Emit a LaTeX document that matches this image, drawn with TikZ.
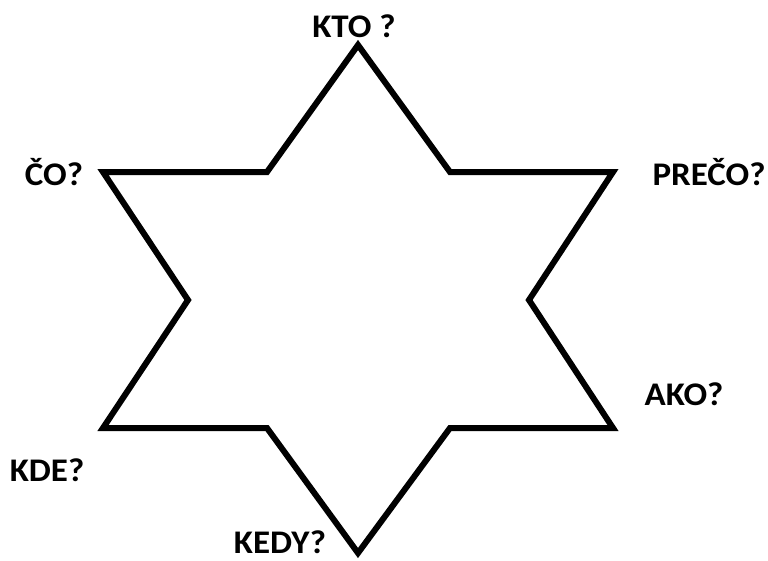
\documentclass[tikz,border=0pt]{standalone}
\usepackage{fontspec}
\setmainfont{Carlito}
\begin{document}
\begin{tikzpicture}[x=1pt,y=-1pt,
  lbl/.style={font=\bfseries\fontsize{33}{33}\selectfont, anchor=base, inner sep=0pt, xscale=1.06},
  starline/.style={line width=6pt, line join=miter}]
\useasboundingbox (0,0) rectangle (768,560);
\coordinate (t) at (358,45);
\coordinate (tr) at (450,172);
\coordinate (r1) at (613,172);
\coordinate (ri) at (529,300);
\coordinate (r2) at (613,428);
\coordinate (br) at (450,428);
\coordinate (b) at (358,553);
\coordinate (bl) at (267,428);
\coordinate (l2) at (103,428);
\coordinate (li) at (188,300);
\coordinate (l1) at (103,172);
\coordinate (tl) at (267,172);
\draw[starline] (t) -- (tr) -- (r1) -- (ri) -- (r2) -- (br) -- (b) -- (bl) -- (l2) -- (li) -- (l1) -- (tl) -- cycle;
\node[lbl] (kto) at (354,37) {KTO ?};
\node[lbl] (co) at (54,185) {ČO?};
\node[lbl] (preco) at (709,185) {PREČO?};
\node[lbl] (ako) at (684,405) {AKO?};
\node[lbl] (kde) at (47,481) {KDE?};
\node[lbl] (kedy) at (280,553) {KEDY?};
\end{tikzpicture}
\end{document}
